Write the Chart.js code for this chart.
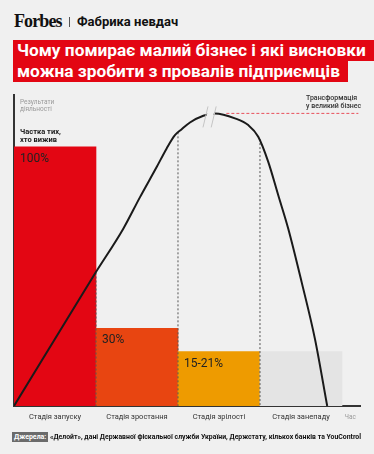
<!DOCTYPE html>
<html>
<head>
<meta charset="utf-8">
<script src="https://cdn.jsdelivr.net/npm/chart.js@4.4.1/dist/chart.umd.min.js"></script>
<style>
  html, body { margin: 0; padding: 0; background: #f0f0f0; width: 374px; height: 454px; overflow: hidden; font-family: Roboto, sans-serif; }
  #wrap { position: relative; width: 374px; height: 454px; }
  #chart { position: absolute; left: 0; top: 0; }
  .logo { position: absolute; left: 14px; top: 11px; font-family: "Liberation Serif", serif; font-weight: bold; font-size: 18px; letter-spacing: -0.9px; color: #111; }
  .sep { position: absolute; left: 69px; top: 17px; width: 1px; height: 10px; background: #555; }
  .rubric { position: absolute; left: 77px; top: 14px; font-weight: bold; font-size: 13px; color: #111; }
  .title { position: absolute; left: 13px; top: 40px; width: 361px; }
  .title div { display: inline-block; background: #e30613; color: #fff; font-weight: bold; font-size: 17.3px; line-height: 21px; height: 21px; padding: 0 8px 0 4px; white-space: nowrap; }
  .src { position: absolute; left: 12px; top: 432px; height: 10px; line-height: 10px; padding: 0 2px; background: #6b6b6b; color: #fff; font-weight: bold; font-size: 7px; }
  .srctext { position: absolute; left: 50px; top: 432px; line-height: 10px; font-weight: bold; font-size: 6.9px; color: #111; white-space: nowrap; }
</style>
</head>
<body>
<div id="wrap">
  <div class="logo">Forbes</div>
  <div class="sep"></div>
  <div class="rubric">Фабрика невдач</div>
  <div class="title">
    <div>Чому помирає малий бізнес і які висновки</div><br>
    <div>можна зробити з провалів підприємців</div>
  </div>
  <canvas id="chart" width="374" height="454"></canvas>
  <div class="src">Джерела:</div>
  <div class="srctext">«Делойт», дані Державної фіскальної служби України, Держстату, кількох банків та YouControl</div>
</div>
<script>
// стадії та частка тих, хто вижив
const stages = ['Стадія запуску', 'Стадія зростання', 'Стадія зрілості', 'Стадія занепаду'];
const survivalShare = [100, 30, 21, 21];
const shareLabels = ['100%', '30%', '15-21%', ''];
const barColors = ['#e30613', '#e84511', '#ee9b00', '#e4e4e4'];

// крива результатів діяльності (x у стадіях)
const curveX = [0, 0.988, 1.333, 1.537, 1.740, 1.862, 1.963, 2.045, 2.146, 2.309, 2.451, 2.695, 2.857, 2.979, 3.101, 3.223, 3.345, 3.509, 3.671, 3.82];
const curveY = [0, 51.1, 68.4, 80.6, 92.2, 99.4, 104.5, 106.8, 109.4, 112.0, 112.9, 111.0, 108.4, 103.9, 94.2, 81.3, 68.4, 47.7, 25.8, 0];

// межі стадій (пунктир від кривої до осі)
const stageEdges = [1, 2, 3];
const edgeTops = [51.5, 105.6, 103];

const bigBusinessLevel = 112.9;
const bigBusinessFrom = 2.59;
const axisEnd = 4.22;

const tickValues = [0.5, 1.5, 2.5, 3.5];

const datasets = [];
datasets.push({
  type: 'line',
  data: curveX.map((x, i) => ({ x: x, y: curveY[i] })),
  borderColor: '#1a1a1a',
  borderWidth: 2,
  pointRadius: 0,
  cubicInterpolationMode: 'monotone',
  order: 0
});
datasets.push({
  type: 'line',
  data: [{ x: bigBusinessFrom, y: bigBusinessLevel }, { x: axisEnd - 0.02, y: bigBusinessLevel }],
  borderColor: '#e8505b',
  borderWidth: 1,
  borderDash: [3, 2],
  pointRadius: 0,
  order: 1
});
stageEdges.forEach((e, i) => {
  datasets.push({
    type: 'line',
    data: [{ x: e, y: edgeTops[i] }, { x: e, y: 0 }],
    borderColor: '#555',
    borderWidth: 1,
    borderDash: [2, 2],
    pointRadius: 0,
    order: 2
  });
});
datasets.push({
  type: 'bar',
  data: survivalShare.map((v, i) => ({ x: i + 0.5, y: v })),
  backgroundColor: barColors,
  borderWidth: 0,
  barPercentage: 1,
  categoryPercentage: 1,
  order: 3
});

const notes = {
  id: 'notes',
  afterDatasetsDraw(chart) {
    const c = chart.ctx, xs = chart.scales.x, ys = chart.scales.y;
    c.save();
    // розрив кривої
    const yTop = ys.getPixelForValue(bigBusinessLevel) - 7;
    const yBot = yTop + 21;
    const x1 = xs.getPixelForValue(2.305), x2 = xs.getPixelForValue(2.405);
    c.fillStyle = '#f0f0f0';
    c.beginPath();
    c.moveTo(x1 + 0.8, yBot - 3); c.lineTo(x2 - 0.8, yBot - 3);
    c.lineTo(x2 + 4.2, yTop + 2); c.lineTo(x1 + 5.8, yTop + 2);
    c.closePath(); c.fill();
    c.strokeStyle = '#c4c4c4'; c.lineWidth = 1;
    [x1, x2].forEach(x => { c.beginPath(); c.moveTo(x, yBot); c.lineTo(x + 5, yTop); c.stroke(); });

    // підписи стовпців
    c.fillStyle = '#222';
    c.font = '12px Roboto';
    c.textBaseline = 'middle';
    survivalShare.forEach((v, i) => {
      c.fillText(shareLabels[i], xs.getPixelForValue(i) + 6, ys.getPixelForValue(v) + 12);
    });

    const left = chart.chartArea.left, top = chart.chartArea.top;
    c.fillStyle = '#9a9a9a';
    c.font = '6.5px Roboto';
    c.fillText('Результати', left + 6, top + 7);
    c.fillText('діяльності', left + 6, top + 14);
    c.fillStyle = '#1a1a1a';
    c.font = 'bold 7.5px Roboto';
    c.fillText('Частка тих,', left + 6, top + 37);
    c.fillText('хто вижив', left + 6, top + 45);
    c.fillStyle = '#333';
    c.font = '500 7px Roboto';
    c.fillText('Трансформація', 306, top + 3);
    c.fillText('у великий бізнес', 306, top + 11);
    // підпис осі часу
    c.fillStyle = '#9a9a9a';
    c.font = '6.5px Roboto';
    c.textAlign = 'center';
    c.fillText('Час', xs.getPixelForValue(4.1), chart.chartArea.bottom + 11);
    c.restore();
  }
};

new Chart(document.getElementById('chart'), {
  type: 'bar',
  data: { datasets: datasets },
  options: {
    responsive: false,
    animation: false,
    layout: { padding: { left: 14, right: 14, top: 95, bottom: 25 } },
    plugins: { legend: { display: false }, tooltip: { enabled: false } },
    scales: {
      x: {
        type: 'linear',
        min: 0,
        max: axisEnd,
        offset: false,
        grid: { display: false, drawTicks: false, offset: false },
        border: { color: '#333', width: 2 },
        afterBuildTicks: s => { s.ticks = tickValues.map(v => ({ value: v })); },
        ticks: {
          autoSkip: false,
          maxRotation: 0,
          padding: 7,
          callback: (v, i) => stages[i],
          color: '#333',
          font: { size: 7.5, family: 'Roboto' }
        }
      },
      y: {
        min: 0,
        max: 120,
        grid: { display: false, drawTicks: false },
        border: { color: '#333', width: 2 },
        ticks: { display: false }
      }
    }
  },
  plugins: [notes]
});
</script>
</body>
</html>
